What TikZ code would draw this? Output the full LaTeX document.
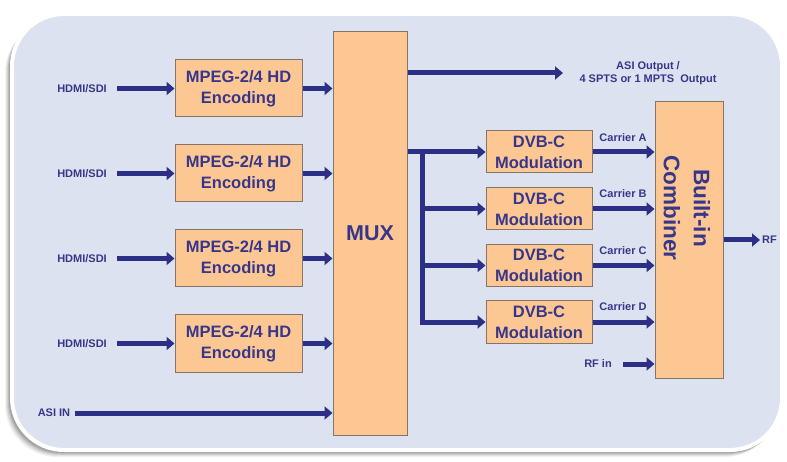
\documentclass[tikz,border=0pt]{standalone}
\usepackage{fontspec}
\setmainfont{Liberation Sans}
\usetikzlibrary{arrows.meta,calc}
\definecolor{panelc}{HTML}{DCE2EF}
\definecolor{boxc}{HTML}{FDC794}
\definecolor{boxline}{HTML}{857568}
\definecolor{arrc}{HTML}{2B2F86}
\definecolor{txtc}{HTML}{37378A}
\tikzset{
  blk/.style={draw=boxline, line width=1pt, fill=boxc, inner sep=0pt, text=txtc,
    font=\bfseries\fontsize{16.5}{21}\selectfont, align=center},
  lbl/.style={text=txtc, font=\bfseries\fontsize{11}{13}\selectfont, inner sep=0pt, align=center},
  conn/.style={draw=arrc, line width=5pt},
  arr/.style={conn, -{Triangle[length=8pt,width=13pt]}},
}
\begin{document}
\begin{tikzpicture}[x=1pt,y=-1pt]
\useasboundingbox (0,0) rectangle (787,462);
\fill[white] (0,0) rectangle (787,462);
% panel shadow and panel
\foreach \o/\op in {7/0.05,6/0.06,5/0.08,4/0.10,3/0.12} {
  \fill[black, opacity=\op, rounded corners=52] (12-\o,14+\o) rectangle (782-\o+2,450+\o);
}
\fill[panelc, draw=white, line width=4pt, rounded corners=52] (12,14) rectangle (782,450);

% encoders
\node[blk, minimum width=127pt, minimum height=57pt] (e1) at (238.5,88.5) {MPEG-2/4 HD\\Encoding};
\node[blk, minimum width=127pt, minimum height=57pt] (e2) at (238.5,173.5) {MPEG-2/4 HD\\Encoding};
\node[blk, minimum width=127pt, minimum height=57pt] (e3) at (238.5,258.5) {MPEG-2/4 HD\\Encoding};
\node[blk, minimum width=127pt, minimum height=57pt] (e4) at (238.5,343.5) {MPEG-2/4 HD\\Encoding};
% mux
\node[blk, minimum width=74pt, minimum height=403pt, font=\bfseries\fontsize{21.5}{26}\selectfont] (mux) at (370,233.5) {MUX};
% modulators
\node[blk, minimum width=106pt, minimum height=42pt] (m1) at (539,152) {DVB-C\\Modulation};
\node[blk, minimum width=106pt, minimum height=42pt] (m2) at (539,209) {DVB-C\\Modulation};
\node[blk, minimum width=106pt, minimum height=42pt] (m3) at (539,265.5) {DVB-C\\Modulation};
\node[blk, minimum width=106pt, minimum height=42pt] (m4) at (539,322) {DVB-C\\Modulation};
% combiner
\node[blk, minimum width=68pt, minimum height=276pt] (comb) at (689,240) {};
\node[text=txtc, font=\bfseries\fontsize{22.5}{30}\selectfont, align=center, rotate=-90, inner sep=0pt] (combt) at (687,208) {Built-in\\Combiner};

% input labels
\node[lbl] (h1) at (82,88.5) {HDMI/SDI};
\node[lbl] (h2) at (82,173.5) {HDMI/SDI};
\node[lbl] (h3) at (82,258.5) {HDMI/SDI};
\node[lbl] (h4) at (82,343.5) {HDMI/SDI};
\node[lbl] (asiin) at (54,413) {ASI IN};
\coordinate (asiinS) at (75,413);
\foreach \i in {1,2,3,4} {
  \draw[arr] ($(h\i.east)+(10,0)$) -- (e\i.west);
  \draw[arr] (e\i.east) -- (e\i.east -| mux.west);
}
\draw[arr] (asiinS) -- (asiinS -| mux.west);

% ASI output
\coordinate (asioutE) at (563,73);
\draw[arr] (asioutE -| mux.east) -- (asioutE);
\node[lbl] (asiout) at (648,73.5) {ASI Output /\\4 SPTS or 1 MPTS\ \ Output};

% bus to modulators
\coordinate (bus) at (422,152);
\draw[arr] (m1.west -| mux.east) -- (m1.west);
\draw[conn] ([yshift=-2.5pt]bus) -- (bus |- m4.west);
\draw[arr] ([xshift=-2.5pt]bus |- m4.west) -- (m4.west);
\draw[arr] (bus |- m2.west) -- (m2.west);
\draw[arr] (bus |- m3.west) -- (m3.west);

% carriers
\node[lbl] (ca) at (623,138) {Carrier A};
\node[lbl] (cb) at (623,194) {Carrier B};
\node[lbl] (cc) at (623,251) {Carrier C};
\node[lbl] (cd) at (623,307) {Carrier D};
\foreach \i in {1,2,3,4} {
  \draw[arr] (m\i.east) -- (m\i.east -| comb.west);
}
% RF in
\node[lbl] (rfin) at (598,364) {RF in};
\coordinate (rfinS) at (623,364);
\draw[arr] (rfinS) -- (rfinS -| comb.west);
% RF out
\coordinate (rfoutE) at (760,240);
\draw[arr] (rfoutE -| comb.east) -- (rfoutE);
\node[lbl, anchor=west] (rf) at (762,240) {RF};
\end{tikzpicture}
\end{document}
